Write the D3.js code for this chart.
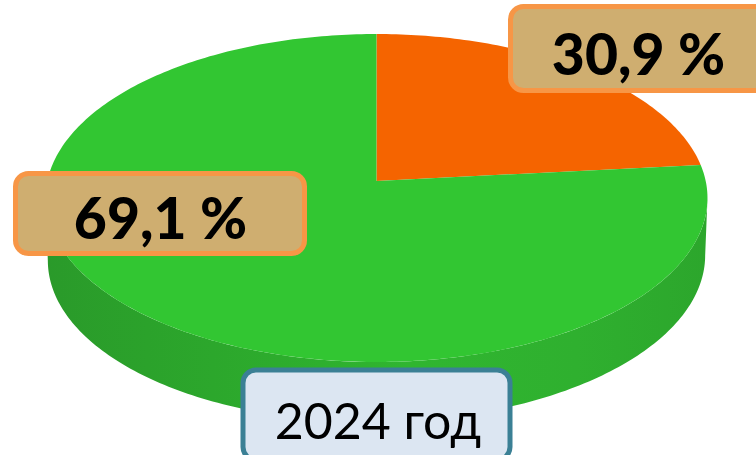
<!DOCTYPE html>
<html><head><meta charset="utf-8">
<script src="https://cdn.jsdelivr.net/npm/d3@7"></script>
<style>html,body{margin:0;padding:0;background:#fff;overflow:hidden}svg{display:block}text{font-family:Lato,"Noto Sans",sans-serif}</style>
</head><body><svg id="c" width="756" height="455"></svg>
<script>
// Printed labels
const categories = ["Оранжевый сектор", "Зелёный сектор"];
const labelValues = ["30,9 %", "69,1 %"];
const yearLabel = "2024 год";
// Shares as the sectors are actually drawn in the picture (read from the sector edge)
const sliceShares = [23.4, 76.6];
const sliceColors = ["#f56400", "#32c632"];

const svg = d3.select("#c");
const k = -0.1037, a = 329.2, b = 162.2, cx = 376.5, cy = 181, depth = 60, tilt = 0.008;
const proj = (t, dz = 0, sc = 1) => {
  const x = Math.sin(t), y = -Math.cos(t), w = 1 + k * y;
  const X = cx + sc * a * x / w;
  return [X, cy + dz + b * y / w - (dz ? tilt * (X - cx) : 0)];
};
const line = d3.line();
const arcPts = (t0, t1, dz, sc) => {
  const n = Math.max(2, Math.ceil(Math.abs(t1 - t0) * 60));
  return d3.range(n + 1).map(i => proj(t0 + (t1 - t0) * i / n, dz, sc));
};

const defs = svg.append("defs");
const g = defs.append("linearGradient").attr("id", "wall").attr("gradientUnits", "userSpaceOnUse")
  .attr("x1", 48).attr("x2", 708).attr("y1", 0).attr("y2", 0);
[[0, "#2a9a2a"], [0.15, "#2ba22b"], [0.35, "#2dac2d"], [0.55, "#30b630"], [0.8, "#2fb02f"], [1, "#2ca62c"]]
  .forEach(([o, c]) => g.append("stop").attr("offset", o).attr("stop-color", c));

// Side wall: from the widest point on the right, round the near edge, to the widest on the left
const tR = Math.PI / 2 + Math.asin(-k), tL = 2 * Math.PI - tR;
const wall = arcPts(tR, tL, 0, 1).concat(arcPts(tL, tR, depth, 0.993));
svg.append("path").attr("d", line(wall) + "Z").attr("fill", "url(#wall)");

// Top face
const pie = d3.pie().sort(null).value(d => d);
pie(sliceShares).forEach((s, i) => {
  const pts = [[cx, cy]].concat(arcPts(s.startAngle, s.endAngle, 0, 1));
  svg.append("path").attr("d", line(pts) + "Z").attr("fill", sliceColors[i])
    .attr("data-cat", categories[i]);
});

function box(x, y, w, h, fill, stroke, txt, tx, ty, size, weight) {
  svg.append("rect").attr("x", x).attr("y", y).attr("width", w).attr("height", h).attr("rx", 13)
    .attr("fill", fill).attr("stroke", stroke).attr("stroke-width", 5);
  svg.append("text").attr("x", tx).attr("y", ty).attr("text-anchor", "middle")
    .attr("font-size", size).attr("font-weight", weight).attr("fill", "#000").text(txt);
}
box(510.5, 6.5, 270, 84, "#cfae70", "#f79646", labelValues[0], 638.5, 75, 57, 900);
box(15.5, 173.5, 289, 80, "#cfae70", "#f79646", labelValues[1], 160.5, 239, 57, 900);
box(243, 370, 267, 90, "#dce6f2", "#3b8095", yearLabel, 378, 439, 50, 400);
</script></body></html>
